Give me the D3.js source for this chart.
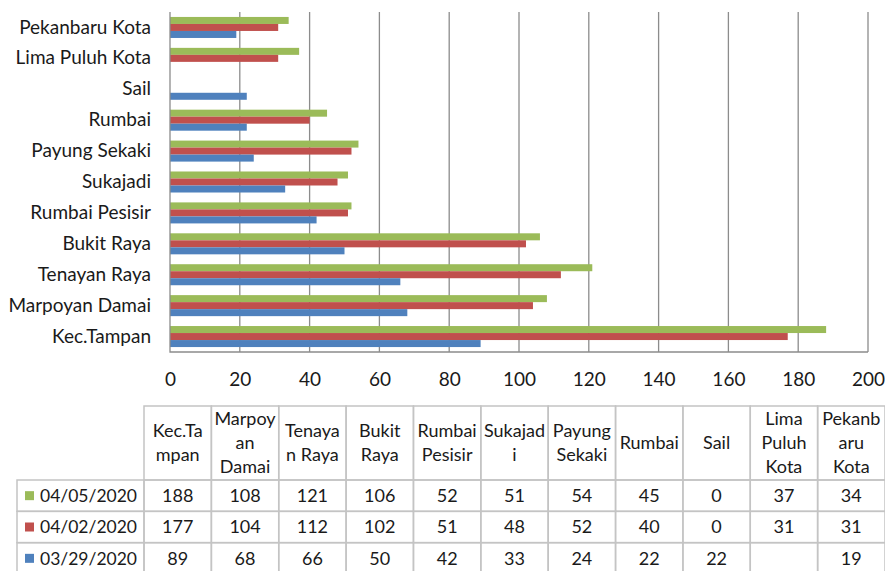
<!DOCTYPE html>
<html>
  <head>
    <meta charset="utf-8">
    <title>Pekanbaru cases by district</title>
    <script src="https://cdn.jsdelivr.net/npm/d3@7"></script>
    <style>
      body { margin: 0; background: #fff; }
      svg { font-family: Lato, "Open Sans", sans-serif; fill: #1a1a1a; }
      .grid line { stroke: #8c8c8c; stroke-width: 1.3; }
      .frame { stroke: #8c8c8c; stroke-width: 1.3; }
      .cell { fill: none; stroke: #c4c4c4; stroke-width: 1.5; }
    </style>
  </head>
  <body>
    <svg id="chart" width="885" height="571"></svg>

    <script>
      // data
      districts = ["Kec.Tampan", "Marpoyan Damai", "Tenayan Raya", "Bukit Raya", "Rumbai Pesisir",
        "Sukajadi", "Payung Sekaki", "Rumbai", "Sail", "Lima Puluh Kota", "Pekanbaru Kota"];
      headerLines = [["Kec.Ta", "mpan"], ["Marpoy", "an", "Damai"], ["Tenaya", "n Raya"], ["Bukit", "Raya"],
        ["Rumbai", "Pesisir"], ["Sukajad", "i"], ["Payung", "Sekaki"], ["Rumbai"], ["Sail"],
        ["Lima", "Puluh", "Kota"], ["Pekanb", "aru", "Kota"]];
      dates = ["04/05/2020", "04/02/2020", "03/29/2020"];
      apr05 = [188, 108, 121, 106, 52, 51, 54, 45, 0, 37, 34];
      apr02 = [177, 104, 112, 102, 51, 48, 52, 40, 0, 31, 31];
      mar29 = [89, 68, 66, 50, 42, 33, 24, 22, 22, null, 19];
      seriesColours = ["#9bbb59", "#c0504d", "#4f81bd"];
      ticks = d3.range(0, 201, 20);

      series = [apr05, apr02, mar29].map(function(values, i) {
        return { date: dates[i], colour: seriesColours[i], values: values };
      });

      svg = d3.select("#chart");

      // scales
      x = d3.scaleLinear()
        .domain([0, 200])
        .range([170, 868]);

      y = d3.scaleBand()
        .domain(districts.slice().reverse())
        .range([12, 352])
        .paddingInner(0.32)
        .paddingOuter(0.16);

      ySub = d3.scaleBand()
        .domain(dates)
        .range([0, y.bandwidth()]);

      // gridlines
      svg.append("g")
        .attr("class", "grid")
        .selectAll("line")
          .data(ticks.slice(1))
        .enter().append("line")
          .attr("x1", function(d) { return x(d); })
          .attr("x2", function(d) { return x(d); })
          .attr("y1", 12)
          .attr("y2", 352);

      // bars
      groups = svg.selectAll(".district")
          .data(districts)
        .enter().append("g")
          .attr("class", "district")
          .attr("transform", function(d) { return "translate(0," + y(d) + ")"; });

      groups.selectAll("rect")
          .data(function(d, i) {
            return series.map(function(s) { return { date: s.date, colour: s.colour, value: s.values[i] }; });
          })
        .enter().append("rect")
          .filter(function(d) { return d.value; })
          .attr("x", x(0))
          .attr("y", function(d) { return ySub(d.date); })
          .attr("width", function(d) { return x(d.value) - x(0); })
          .attr("height", ySub.bandwidth())
          .style("fill", function(d) { return d.colour; });

      // axes
      svg.append("path")
        .attr("class", "frame")
        .attr("fill", "none")
        .attr("d", "M" + x(0) + ",12V352H" + x(200));

      yAxis = svg.append("g")
        .attr("transform", "translate(" + (x(0) - 4) + ",0)")
        .call(d3.axisLeft(y).tickSize(0).tickPadding(15));
      yAxis.select(".domain").remove();
      yAxis.selectAll("text")
        .style("font-family", "Lato, sans-serif")
        .style("font-size", "19px")
        .attr("fill", "#1a1a1a");

      xAxis = svg.append("g")
        .attr("transform", "translate(0,352)")
        .call(d3.axisBottom(x).tickValues(ticks).tickSize(0).tickPadding(21));
      xAxis.select(".domain").remove();
      xAxis.selectAll("text")
        .style("font-family", "Lato, sans-serif")
        .style("font-size", "19px")
        .attr("fill", "#1a1a1a");

      // data table
      colX = d3.scaleBand()
        .domain(districts)
        .range([144, 885]);
      tableTop = 406;
      headerBottom = 480;
      rowY = d3.scaleBand()
        .domain(dates)
        .range([headerBottom, 574]);

      table = svg.append("g")
        .style("font-size", "18px");

      // header cells
      header = table.selectAll(".head")
          .data(districts)
        .enter().append("g")
          .attr("class", "head");
      header.append("rect")
        .attr("class", "cell")
        .attr("x", function(d) { return colX(d); })
        .attr("y", tableTop)
        .attr("width", colX.bandwidth())
        .attr("height", headerBottom - tableTop);
      header.append("text")
        .attr("text-anchor", "middle")
        .each(function(d, i) {
          lines = headerLines[i];
          mid = (tableTop + headerBottom) / 2;
          d3.select(this).selectAll("tspan")
              .data(lines)
            .enter().append("tspan")
              .attr("x", colX(d) + colX.bandwidth() / 2)
              .attr("y", function(l, j) { return mid + (j - (lines.length - 1) / 2) * 24; })
              .attr("dy", "0.35em")
              .text(function(l) { return l; });
        });

      // series rows
      rows = table.selectAll(".row")
          .data(series)
        .enter().append("g")
          .attr("class", "row")
          .attr("transform", function(d) { return "translate(0," + rowY(d.date) + ")"; });
      rows.append("rect")
        .attr("class", "cell")
        .attr("x", 17)
        .attr("width", 144 - 17)
        .attr("height", rowY.bandwidth());
      rows.append("rect")
        .attr("x", 25)
        .attr("y", rowY.bandwidth() / 2 - 4.5)
        .attr("width", 9)
        .attr("height", 9)
        .style("fill", function(d) { return d.colour; });
      rows.append("text")
        .attr("x", 40)
        .attr("y", rowY.bandwidth() / 2)
        .attr("dy", "0.36em")
        .style("font-size", "17.5px")
        .text(function(d) { return d.date; });

      rows.selectAll(".value")
          .data(function(d) { return d.values; })
        .enter().append("g")
          .attr("class", "value")
          .each(function(v, i) {
            g = d3.select(this);
            g.append("rect")
              .attr("class", "cell")
              .attr("x", colX(districts[i]))
              .attr("width", colX.bandwidth())
              .attr("height", rowY.bandwidth());
            g.append("text")
              .attr("x", colX(districts[i]) + colX.bandwidth() / 2)
              .attr("y", rowY.bandwidth() / 2)
              .attr("dy", "0.36em")
              .attr("text-anchor", "middle")
              .style("font-size", "18px")
              .text(v == null ? "" : v);
          });
    </script>
  </body>
</html>
